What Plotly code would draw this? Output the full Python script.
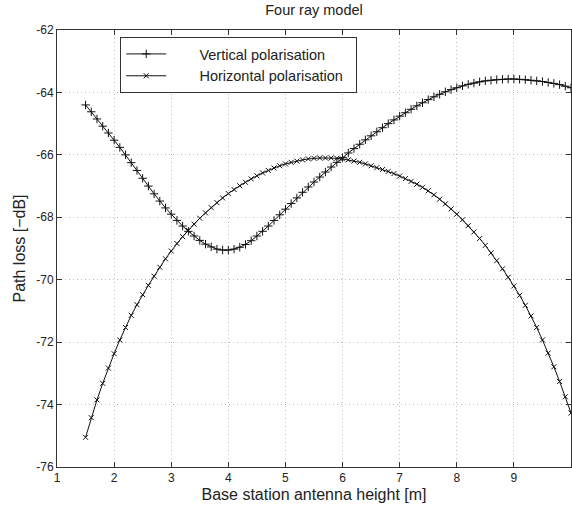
import plotly.graph_objects as go

x_height = [round(1.5 + 0.1 * i, 1) for i in range(86)]

# Horizontal polarisation ('x' markers)
horizontal = [
    -75.05, -74.42, -73.85, -73.32, -72.83, -72.37, -71.93, -71.53, -71.14, -70.80,
    -70.48, -70.18, -69.89, -69.60, -69.33, -69.08, -68.84, -68.62, -68.42, -68.22,
    -68.03, -67.86, -67.69, -67.53, -67.38, -67.24, -67.11, -66.99, -66.88, -66.77,
    -66.67, -66.58, -66.50, -66.42, -66.35, -66.29, -66.24, -66.20, -66.16, -66.13,
    -66.11, -66.10, -66.10, -66.10, -66.11, -66.13, -66.16, -66.20, -66.24, -66.29,
    -66.35, -66.41, -66.47, -66.53, -66.60, -66.68, -66.76, -66.85, -66.94, -67.04,
    -67.15, -67.28, -67.42, -67.57, -67.73, -67.90, -68.08, -68.27, -68.47, -68.68,
    -68.90, -69.14, -69.39, -69.65, -69.92, -70.20, -70.50, -70.82, -71.16, -71.53,
    -71.93, -72.35, -72.79, -73.26, -73.75, -74.27,
]

# Vertical polarisation ('+' markers)
vertical = [
    -64.40, -64.62, -64.85, -65.08, -65.30, -65.53, -65.76, -66.00, -66.25, -66.50,
    -66.75, -67.00, -67.25, -67.48, -67.70, -67.90, -68.10, -68.28, -68.45, -68.60,
    -68.74, -68.86, -68.95, -69.02, -69.05, -69.05, -69.02, -68.96, -68.87, -68.75,
    -68.60, -68.45, -68.28, -68.10, -67.92, -67.74, -67.56, -67.38, -67.20, -67.03,
    -66.87, -66.71, -66.55, -66.39, -66.24, -66.09, -65.94, -65.80, -65.66, -65.52,
    -65.39, -65.26, -65.13, -65.00, -64.88, -64.76, -64.65, -64.54, -64.43, -64.33,
    -64.23, -64.14, -64.06, -63.98, -63.91, -63.85, -63.79, -63.74, -63.70, -63.66,
    -63.63, -63.61, -63.59, -63.58, -63.57, -63.57, -63.58, -63.59, -63.61, -63.63,
    -63.65, -63.68, -63.71, -63.75, -63.80, -63.85,
]

x_ticks = [1, 2, 3, 4, 5, 6, 7, 8, 9, 10]
x_tick_labels = ["1", "2", "3", "4", "5", "6", "7", "8", "9", "10"]
y_ticks = [-76, -74, -72, -70, -68, -66, -64, -62]
y_tick_labels = ["-76", "-74", "-72", "-70", "-68", "-66", "-64", "-62"]

FONT = "Liberation Sans, Arial, sans-serif"
NB = "\u00a0"

fig = go.Figure()
fig.add_trace(go.Scatter(
    x=x_height, y=vertical, mode="lines+markers",
    name=NB * 7 + "Vertical polarisation",
    line=dict(color="#111", width=1),
    marker=dict(symbol="cross-thin", size=6, line=dict(color="#111", width=1)),
))
fig.add_trace(go.Scatter(
    x=x_height, y=horizontal, mode="lines+markers",
    name=NB * 7 + "Horizontal polarisation" + NB * 2,
    line=dict(color="#111", width=1),
    marker=dict(symbol="x-thin", size=5, line=dict(color="#111", width=1)),
))

axis_common = dict(
    showline=True, linecolor="#333", linewidth=1, mirror="ticks",
    ticks="inside", ticklen=5, tickcolor="#333",
    showgrid=True, gridcolor="#bdbdbd", griddash="1px,3px", gridwidth=1,
    zeroline=False, tickfont=dict(family=FONT, size=12, color="#222"),
)

fig.update_layout(
    width=572, height=512,
    margin=dict(l=57, r=1, t=30, b=45),
    paper_bgcolor="white", plot_bgcolor="white",
    title=dict(text="Four ray model", x=0.5, xref="paper", y=0.99, yanchor="top",
               font=dict(family=FONT, size=14.5, color="#222")),
    font=dict(family=FONT, color="#222"),
    legend=dict(
        x=0.123, y=0.984, xanchor="left", yanchor="top",
        bgcolor="white", bordercolor="#333", borderwidth=1,
        font=dict(family=FONT, size=14.5, color="#222"),
        itemwidth=40, tracegroupgap=0,
    ),
    showlegend=True,
)
fig.update_xaxes(range=[1, 10], tickvals=x_ticks, ticktext=x_tick_labels,
                 title=dict(text="Base station antenna height [m]", standoff=4,
                            font=dict(family=FONT, size=16, color="#222")),
                 **axis_common)
fig.update_yaxes(range=[-76, -62], tickvals=y_ticks, ticktext=y_tick_labels,
                 title=dict(text="Path loss [\u2212dB]", standoff=6,
                            font=dict(family=FONT, size=16, color="#222")),
                 **axis_common)

fig.write_html("out.html", config={"displayModeBar": False},
               post_script="document.body.style.margin='0';")
